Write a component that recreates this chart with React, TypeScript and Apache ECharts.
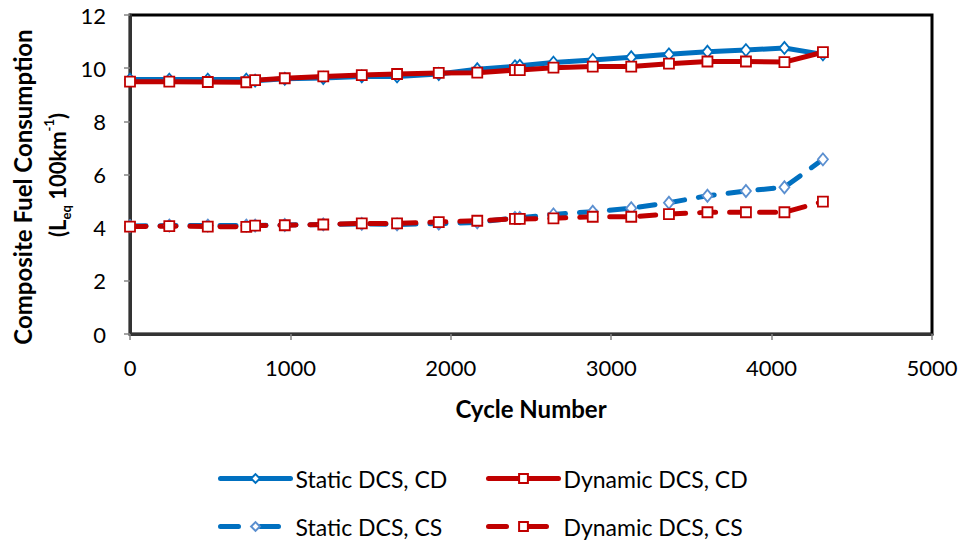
import React, { useEffect, useRef } from "react";
import * as echarts from "echarts";

const cycles = [0, 245, 485, 725, 780, 965, 1205, 1445, 1665, 1925, 2165, 2400, 2430, 2640, 2885, 3125, 3360, 3600, 3840, 4080, 4320];
const staticCD = [9.57, 9.57, 9.57, 9.57, 9.53, 9.6, 9.63, 9.69, 9.69, 9.78, 9.96, 10.07, 10.09, 10.21, 10.31, 10.41, 10.52, 10.62, 10.68, 10.76, 10.52];
const dynamicCD = [9.49, 9.49, 9.48, 9.47, 9.55, 9.62, 9.69, 9.74, 9.78, 9.82, 9.83, 9.93, 9.93, 10.02, 10.06, 10.06, 10.17, 10.25, 10.25, 10.23, 10.6];
const staticCS = [4.06, 4.08, 4.08, 4.08, 4.08, 4.1, 4.12, 4.14, 4.12, 4.15, 4.2, 4.37, 4.37, 4.5, 4.6, 4.73, 4.94, 5.2, 5.38, 5.52, 6.57];
const dynamicCS = [4.04, 4.06, 4.04, 4.03, 4.08, 4.09, 4.12, 4.16, 4.16, 4.21, 4.26, 4.33, 4.33, 4.35, 4.41, 4.41, 4.51, 4.58, 4.58, 4.58, 4.98];
const seriesNames = ["Static DCS, CD", "Dynamic DCS, CD", "Static DCS, CS", "Dynamic DCS, CS"];

const BLUE = "#0070C0";
const RED = "#C00000";
const FONT = "Lato, 'Open Sans', sans-serif";

const pairs = (ys: number[]) => cycles.map((x, i) => [x, ys[i]]);

export default function App() {
  const ref = useRef<HTMLDivElement>(null);
  useEffect(() => {
    const chart = echarts.init(ref.current!, undefined, { renderer: "svg" });
    const mk = (name: string, ys: number[], color: string, markerBorder: string, dashed: boolean, symbol: string) => ({
      name,
      type: "line",
      data: pairs(ys),
      symbol,
      symbolSize: symbol === "diamond" ? [10, 12] : 10,
      showAllSymbol: true,
      lineStyle: { color, width: 5, type: dashed ? [16, 14] : "solid", cap: "round", join: "round" },
      itemStyle: { color: "#fff", borderColor: markerBorder, borderWidth: 1.8 },
      emphasis: { disabled: true },
      z: 2,
    });
    const legendBase = {
      itemWidth: 70,
      itemHeight: 11,
      itemGap: 0,
      textStyle: { fontFamily: FONT, fontSize: 23, color: "#000" },
      selectedMode: false,
    };
    const legendLine = (color: string, dashed: boolean) => ({
      color,
      width: 5,
      cap: "round",
      type: dashed ? [18, 22] : "solid",
    });
    chart.setOption({
      animation: false,
      backgroundColor: "#fff",
      grid: { left: 130, top: 15, right: 32, bottom: 212, show: true, borderColor: "#000", borderWidth: 3 },
      xAxis: {
        type: "value",
        min: 0,
        max: 5000,
        interval: 1000,
        axisLine: { lineStyle: { color: "#333", width: 3 } },
        axisTick: { show: true, inside: false, length: 6, lineStyle: { color: "#868686", width: 1.5 } },
        axisLabel: { fontFamily: FONT, fontSize: 22, color: "#000", margin: 22, formatter: (v: number) => String(v) },
        splitLine: { show: false },
        name: "Cycle Number",
        nameLocation: "middle",
        nameGap: 62,
        nameTextStyle: { fontFamily: FONT, fontSize: 24, fontWeight: "bold", color: "#000" },
      },
      yAxis: {
        type: "value",
        min: 0,
        max: 12,
        interval: 2,
        axisLine: { lineStyle: { color: "#333", width: 3 } },
        axisTick: { show: true, inside: false, length: 6, lineStyle: { color: "#868686", width: 1.5 } },
        axisLabel: { fontFamily: FONT, fontSize: 22, color: "#000", margin: 24 },
        splitLine: { show: false },
      },
      legend: [
        { ...legendBase, data: [seriesNames[0]], left: 213, top: 462, lineStyle: legendLine(BLUE, false) },
        { ...legendBase, data: [seriesNames[1]], left: 481, top: 462, lineStyle: legendLine(RED, false) },
        { ...legendBase, data: [seriesNames[2]], left: 213, top: 510, lineStyle: legendLine(BLUE, true) },
        { ...legendBase, data: [seriesNames[3]], left: 481, top: 510, lineStyle: legendLine(RED, true) },
      ],
      graphic: [
        {
          type: "text",
          x: 22,
          y: 187,
          rotation: Math.PI / 2,
          style: {
            text: "Composite Fuel Consumption",
            fontFamily: FONT,
            fontSize: 24,
            fontWeight: "bold",
            fill: "#000",
            align: "center",
            verticalAlign: "middle",
          },
        },
        {
          type: "text",
          x: 57,
          y: 175,
          rotation: Math.PI / 2,
          style: {
            text: "{n|(L}{sub|eq}{n| 100km}{sup|-1}{n|)}",
            align: "center",
            verticalAlign: "middle",
            rich: {
              n: { fontFamily: FONT, fontSize: 22, fontWeight: "bold", fill: "#000", lineHeight: 30, verticalAlign: "middle" },
              sub: { fontFamily: FONT, fontSize: 13, fontWeight: "bold", fill: "#000", lineHeight: 30, verticalAlign: "bottom", padding: [9, 0, 0, 0] },
              sup: { fontFamily: FONT, fontSize: 13, fontWeight: "bold", fill: "#000", lineHeight: 30, verticalAlign: "top", padding: [0, 0, 9, 0] },
            },
          },
        },
      ],
      series: [
        mk(seriesNames[0], staticCD, BLUE, BLUE, false, "diamond"),
        mk(seriesNames[1], dynamicCD, RED, RED, false, "rect"),
        mk(seriesNames[2], staticCS, BLUE, "#5B8FD0", true, "diamond"),
        mk(seriesNames[3], dynamicCS, RED, RED, true, "rect"),
      ],
    });
    return () => chart.dispose();
  }, []);
  return <div ref={ref} style={{ position: "absolute", left: 0, top: 0, width: 964, height: 546 }} />;
}
